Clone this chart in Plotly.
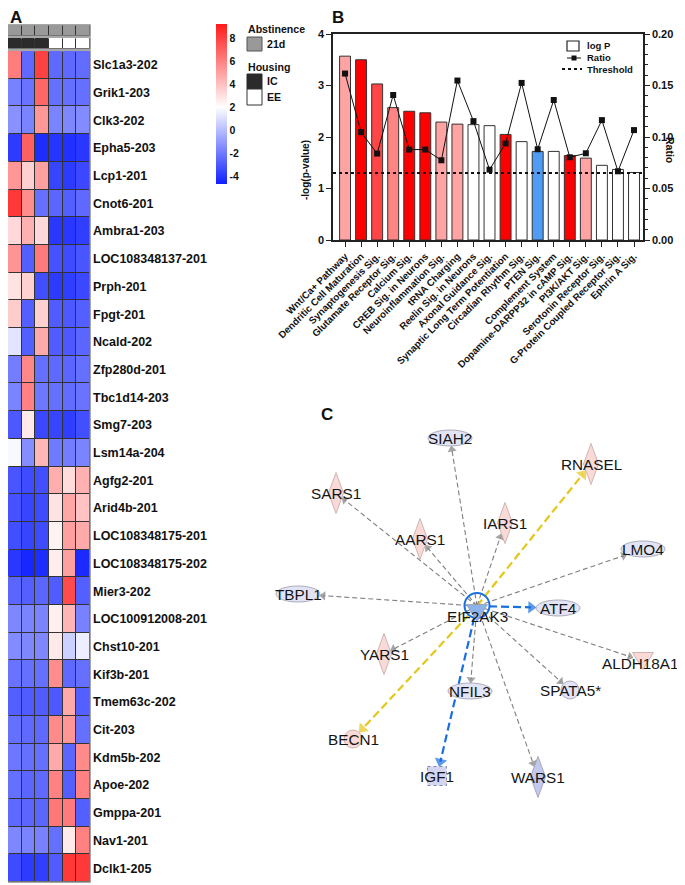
import math
import plotly.graph_objects as go

# The page places the figure 8px in from the top-left corner of the window,
# so the figure is sized to the visible area and positions are given in window pixels.
VIEW_W, VIEW_H = 685, 885
OX, OY = 8, 8
W, H = VIEW_W - OX, VIEW_H - OY
FONT = "Liberation Sans, Arial, sans-serif"


def px(x):
    return (x - OX) / W


def py(y):
    return 1 - (y - OY) / H


# ---------------- Panel A data ----------------
genes = ["Slc1a3-202", "Grik1-203", "Clk3-202", "Epha5-203", "Lcp1-201", "Cnot6-201",
         "Ambra1-203", "LOC108348137-201", "Prph-201", "Fpgt-201", "Ncald-202",
         "Zfp280d-201", "Tbc1d14-203", "Smg7-203", "Lsm14a-204", "Agfg2-201",
         "Arid4b-201", "LOC108348175-201", "LOC108348175-202", "Mier3-202",
         "LOC100912008-201", "Chst10-201", "Kif3b-201", "Tmem63c-202", "Cit-203",
         "Kdm5b-202", "Apoe-202", "Gmppa-201", "Nav1-201", "Dclk1-205"]
samples = ["IC-1", "IC-2", "IC-3", "EE-1", "EE-2", "EE-3"]
abstinence = ["21d", "21d", "21d", "21d", "21d", "21d"]
housing = ["IC", "IC", "IC", "EE", "EE", "EE"]
expr = [
    [6.1, -2.5, 8.0, -2.5, -2.5, -2.4],
    [-1.8, -2.2, 6.8, -2.3, -2.3, -2.3],
    [-1.3, -1.7, 5.3, -1.7, -1.6, -1.5],
    [-3.9, 7.0, -4.3, -4.1, -4.2, -4.0],
    [5.3, 3.5, 5.0, -3.6, -3.9, -3.5],
    [8.3, 5.6, -2.3, -2.6, -2.8, -2.5],
    [3.2, 4.5, 3.2, -4.0, -4.0, -3.8],
    [5.4, -2.8, 6.2, -3.2, -3.4, -3.1],
    [2.9, 3.5, -3.3, -3.9, -3.8, -3.5],
    [3.6, -2.8, 3.5, -2.9, -3.0, -2.8],
    [1.2, -2.8, 4.7, -2.9, -3.0, -2.6],
    [-1.9, 5.8, -2.3, -2.5, -2.6, -2.3],
    [-1.7, 6.0, -2.1, -2.3, -2.4, -2.2],
    [-3.0, 2.7, -3.5, -3.6, -3.8, -3.3],
    [1.8, -1.4, 4.3, -2.0, -1.9, -1.7],
    [-3.1, -3.4, -3.3, 4.6, 3.1, 4.5],
    [-3.2, -3.6, -3.4, 2.9, 4.8, 3.9],
    [-3.3, -3.6, -3.4, 2.4, 5.0, 4.7],
    [-4.0, -4.5, -4.3, 2.6, 5.0, -4.4],
    [-2.6, -2.8, -2.6, -2.9, 7.7, -2.8],
    [-1.6, -1.7, -1.7, 2.5, 4.3, -1.8],
    [-1.5, -1.6, -1.6, 2.7, 0.6, 1.5],
    [-2.2, -2.3, -2.3, 5.6, -2.5, -2.3],
    [-2.8, -2.9, -2.9, -3.0, 4.7, -2.8],
    [-2.3, -2.5, -2.5, 5.7, 5.3, -2.3],
    [-2.1, -2.3, -2.3, 4.7, -2.6, 5.7],
    [-2.3, -2.6, -2.5, 6.0, -2.8, 6.0],
    [-2.5, -2.6, -2.6, 6.3, 6.2, -2.8],
    [-1.6, -1.7, -1.8, -2.3, 2.7, 6.0],
    [-3.4, -3.9, -3.8, -2.9, 8.3, 8.3],
]
cbar_ticks = [-4, -2, 0, 2, 4, 6, 8]
cbar_text = ["-4", "-2", "0", "2", "4", "6", "8"]

# ---------------- Panel B data ----------------
pathways = ["Wnt/Ca+ Pathway", "Dendritic Cell Maturation", "Synaptogenesis Sig.",
            "Glutamate Receptor Sig.", "Calcium Sig.", "CREB Sig. in Neurons",
            "Neuroinflammation Sig.", "tRNA Charging", "Reelin Sig. in Neurons",
            "Axonal Guidance Sig.", "Synaptic Long Term Potentiation",
            "Circadian Rhythm Sig.", "PTEN Sig.", "Complement System",
            "Dopamine-DARPP32 in cAMP Sig.", "PI3K/AKT Sig.", "Serotonin Receptor Sig.",
            "G-Protein Coupled Receptor Sig.", "Ephrin A Sig."]
logp = [3.57, 3.50, 3.03, 2.57, 2.50, 2.47, 2.29, 2.25, 2.24, 2.22, 2.05, 1.91,
        1.72, 1.72, 1.64, 1.59, 1.45, 1.37, 1.31]
ratio = [0.1616, 0.1047, 0.0839, 0.1408, 0.0878, 0.0878, 0.0774, 0.1548, 0.1154,
         0.0683, 0.0937, 0.1525, 0.0881, 0.1359, 0.0803, 0.0842, 0.1164, 0.0667, 0.1067]
bar_colors = ["#ffa3a3", "#ff0000", "#ff4545", "#ff8585", "#ff0000", "#ff0000",
              "#ffa3a3", "#ffa3a3", "#ffffff", "#ffffff", "#ff0000", "#ffffff",
              "#4f9cf5", "#ffffff", "#ff0000", "#ffa3a3", "#ffffff", "#ffffff", "#ffffff"]
threshold = 1.3
legend_names = ["log P", "Ratio", "Threshold"]

# ---------------- Panel C data ----------------
nodes = ["SIAH2", "RNASEL", "SARS1", "AARS1", "IARS1", "LMO4", "TBPL1", "EIF2AK3",
         "ATF4", "YARS1", "ALDH18A1", "NFIL3", "SPATA5*", "BECN1", "IGF1", "WARS1"]
node_x = [450, 591, 336, 420, 505, 643, 298, 477, 558, 384, 643, 470, 570, 353, 437, 538]
node_y = [438, 464, 493, 539, 523, 549, 594, 613, 608, 654, 661, 691, 690, 739, 776, 777]
node_type = ["ellipse", "diamond", "diamond", "diamond", "diamond", "ellipse", "ellipse",
             "triangle", "ellipse", "diamond", "triangle", "ellipse", "circle", "circle",
             "square", "diamond"]
node_fill = ["#e2e4f6", "#f9dad7", "#f9dad7", "#f9dad7", "#f9dad7", "#e2e4f6", "#e2e4f6",
             "#8cb2ea", "#e2e4f6", "#f9dad7", "#f9dad7", "#e2e4f6", "#e2e4f6", "#f9dad7",
             "#d3d6f3", "#c3c8ef"]
edge_source = "EIF2AK3"
edge_targets = ["SIAH2", "RNASEL", "SARS1", "AARS1", "IARS1", "LMO4", "TBPL1", "ATF4",
                "YARS1", "ALDH18A1", "NFIL3", "SPATA5*", "BECN1", "IGF1", "WARS1"]
edge_kind = ["grey", "yellow", "grey", "grey", "grey", "grey", "grey", "blue",
             "grey", "grey", "grey", "grey", "yellow", "blue", "grey"]

# ---------------- styles ----------------
SHAPE_DIMS = {"ellipse": (22, 8), "diamond": (7.5, 20.5), "circle": (9, 9),
              "square": (9.5, 9.5), "triangle": (10.5, 8.5)}
EDGE_STYLE = {"grey": ("#7f7f7f", 1.1, "5px,3px", 8),
              "yellow": ("#e6c619", 2.2, "8px,4px", 11),
              "blue": ("#1a6fdf", 2.2, "8px,4px", 11)}
LABEL_SHIFT = {"EIF2AK3": (0, 3), "ALDH18A1": (-3, 2)}

fig = go.Figure()

# ---- Panel A: heatmap ----
fig.add_trace(go.Heatmap(
    z=expr, x=samples, y=genes, xaxis="x", yaxis="y",
    colorscale=[[0, "#1020ff"], [0.48, "#ffffff"], [1, "#ff1a1a"]],
    zmin=-4.7, zmax=9.25, xgap=1, ygap=1, hoverinfo="skip",
    colorbar=dict(x=px(216), xanchor="left", y=py(104), yanchor="middle",
                  len=160, lenmode="pixels", thickness=11, thicknessmode="pixels",
                  outlinewidth=0, xpad=0, ypad=0, tickvals=cbar_ticks, ticktext=cbar_text,
                  ticks="",
                  tickfont=dict(family=FONT, size=10.5, color="#111", weight="bold")),
))
abst_code = [[1 if a == "21d" else 0 for a in abstinence]]
fig.add_trace(go.Heatmap(
    z=abst_code, x=samples, y=["Abstinence"], xaxis="x2", yaxis="y2",
    colorscale=[[0, "#999999"], [1, "#999999"]], showscale=False, xgap=1, ygap=1,
    hoverinfo="skip"))
house_code = [[1 if h == "IC" else 0 for h in housing]]
fig.add_trace(go.Heatmap(
    z=house_code, x=samples, y=["Housing"], xaxis="x3", yaxis="y3",
    colorscale=[[0, "#ffffff"], [1, "#2b2b2b"]], zmin=0, zmax=1, showscale=False,
    xgap=1, ygap=1, hoverinfo="skip"))

# ---- Panel B ----
xs = list(range(len(pathways)))
fig.add_trace(go.Bar(
    x=xs, y=logp, xaxis="x4", yaxis="y4", width=0.68, name=legend_names[0],
    marker=dict(color=bar_colors, line=dict(color="#333333", width=1)), hoverinfo="skip"))
fig.add_trace(go.Scatter(
    x=[-0.75, len(pathways) - 0.44], y=[threshold, threshold], xaxis="x4", yaxis="y4",
    mode="lines", name=legend_names[2],
    line=dict(color="#111111", width=2, dash="dot"), hoverinfo="skip"))
fig.add_trace(go.Scatter(
    x=xs, y=ratio, xaxis="x4", yaxis="y5", mode="lines+markers", name=legend_names[1],
    line=dict(color="#111111", width=1),
    marker=dict(symbol="square", size=6, color="#111111"), hoverinfo="skip"))

# ---- Panel C ----
pos = {n: (x, y) for n, x, y in zip(nodes, node_x, node_y)}
ntype = dict(zip(nodes, node_type))


def boundary(t, ux, uy):
    a, b = SHAPE_DIMS[t]
    if t in ("ellipse", "triangle"):
        return 1 / math.sqrt((ux / a) ** 2 + (uy / b) ** 2)
    if t == "diamond":
        return 1 / (abs(ux) / a + abs(uy) / b)
    if t == "circle":
        return a
    cands = []
    if abs(ux) > 1e-9:
        cands.append(a / abs(ux))
    if abs(uy) > 1e-9:
        cands.append(b / abs(uy))
    return min(cands)


sx, sy = pos[edge_source]
sy = sy - 7
for tgt, kind in zip(edge_targets, edge_kind):
    tx, ty = pos[tgt]
    dx, dy = sx - tx, sy - ty
    d = math.hypot(dx, dy)
    ux, uy = dx / d, dy / d
    color, width, dash, asize = EDGE_STYLE[kind]
    tb = boundary(ntype[tgt], ux, uy) + asize * 0.45
    ex, ey = tx + ux * tb, ty + uy * tb
    fig.add_trace(go.Scatter(
        x=[sx, ex], y=[sy, ey], xaxis="x6", yaxis="y6", mode="lines+markers",
        showlegend=False, hoverinfo="skip", cliponaxis=False,
        line=dict(color=color, width=width, dash=dash),
        marker=dict(symbol="triangle-up", size=[0, asize], color=color,
                    angleref="previous", line=dict(width=0))))

shapes = []
annotations = []

# heatmap backgrounds / frames
for xr, yr in (("x", "y"), ("x2", "y2"), ("x3", "y3")):
    shapes.append(dict(type="rect", xref=f"{xr} domain", yref=f"{yr} domain",
                       x0=0, x1=1, y0=0, y1=1, fillcolor="#333333",
                       line=dict(color="#8a8a8a", width=1.5), layer="below"))

# network: self loop and nodes
shapes.append(dict(type="circle", xref="x6", yref="y6", x0=sx - 12.5, x1=sx + 12.5,
                   y0=sy - 13, y1=sy + 12, line=dict(color="#1a6fdf", width=2),
                   fillcolor="rgba(0,0,0,0)", layer="above"))
for n, x, y, t, f in zip(nodes, node_x, node_y, node_type, node_fill):
    a, b = SHAPE_DIMS[t]
    base = dict(xref="x6", yref="y6", fillcolor=f, layer="above",
                line=dict(color="#9a9aa8" if f != "#f9dad7" else "#c4a6a2", width=0.8))
    if t in ("ellipse", "circle"):
        shapes.append(dict(type="circle", x0=x - a, x1=x + a, y0=y - b, y1=y + b, **base))
    elif t == "diamond":
        shapes.append(dict(type="path",
                           path=f"M {x},{y - b} L {x + a},{y} L {x},{y + b} L {x - a},{y} Z",
                           **base))
    elif t == "triangle":
        shapes.append(dict(type="path",
                           path=f"M {x - a},{y - b} L {x + a},{y - b} L {x},{y + b} Z",
                           **base))
    else:
        base["line"] = dict(color="#7a7aa0", width=0.9, dash="dot")
        shapes.append(dict(type="rect", x0=x - a, x1=x + a, y0=y - b, y1=y + b, **base))
    sdx, sdy = LABEL_SHIFT.get(n, (0, 0))
    annotations.append(dict(text=n, x=x + sdx, y=y + sdy,
                            xref="x6", yref="y6", showarrow=False,
                            font=dict(family=FONT, size=15.3, color="#151515")))

# heatmap legend
bold = dict(family=FONT, size=10.6, color="#111", weight="bold")
hm_leg = [
    dict(text="Abstinence", x=px(246), y=py(29)),
    dict(text=abstinence[0], x=px(265), y=py(44)),
    dict(text="Housing", x=px(246), y=py(67)),
    dict(text=housing[0], x=px(265), y=py(81)),
    dict(text=housing[-1], x=px(265), y=py(97)),
]
for a_ in hm_leg:
    a_.update(xref="paper", yref="paper", showarrow=False, font=bold,
              xanchor="left", yanchor="middle")
annotations += hm_leg
shapes += [
    dict(type="rect", xref="paper", yref="paper", x0=px(247), x1=px(262), y0=py(51),
         y1=py(37), fillcolor="#999999", line=dict(color="#555555", width=1)),
    dict(type="rect", xref="paper", yref="paper", x0=px(247), x1=px(262), y0=py(89),
         y1=py(74), fillcolor="#2b2b2b", line=dict(color="#2b2b2b", width=1)),
    dict(type="rect", xref="paper", yref="paper", x0=px(247), x1=px(262), y0=py(105),
         y1=py(89), fillcolor="#ffffff", line=dict(color="#333333", width=1)),
]

# bar chart legend (drawn compactly as in the reference)
lfont = dict(family=FONT, size=9.5, color="#111", weight="bold")
shapes += [
    dict(type="rect", xref="paper", yref="paper", x0=px(567), x1=px(579), y0=py(51),
         y1=py(41), fillcolor="#ffffff", line=dict(color="#222222", width=1.2)),
    dict(type="line", xref="paper", yref="paper", x0=px(567), x1=px(581), y0=py(58),
         y1=py(58), line=dict(color="#111111", width=1)),
    dict(type="rect", xref="paper", yref="paper", x0=px(571.5), x1=px(576.5), y0=py(60.5),
         y1=py(55.5), fillcolor="#111111", line=dict(color="#111111", width=0)),
    dict(type="line", xref="paper", yref="paper", x0=px(562), x1=px(582), y0=py(69),
         y1=py(69), line=dict(color="#111111", width=2, dash="dot")),
]
for name, yy in zip(legend_names, (46, 58, 69)):
    annotations.append(dict(text=name, x=px(585), y=py(yy), xanchor="left",
                            yanchor="middle", xref="paper", yref="paper",
                            showarrow=False, font=lfont))

# panel letters and axis titles
annotations += [
    dict(text="A", x=px(8), y=py(17), xanchor="left", yanchor="middle", xref="paper",
         yref="paper", showarrow=False, font=dict(family=FONT, size=17, color="#111", weight="bold")),
    dict(text="B", x=px(330), y=py(17), xanchor="left", yanchor="middle", xref="paper",
         yref="paper", showarrow=False, font=dict(family=FONT, size=17, color="#111", weight="bold")),
    dict(text="C", x=px(327), y=py(414), xanchor="center", yanchor="middle", xref="paper",
         yref="paper", showarrow=False, font=dict(family=FONT, size=17, color="#111", weight="bold")),
    dict(text="-log(p-value)", x=px(305), y=py(138), textangle=-90, xref="paper", yref="paper",
         showarrow=False, font=dict(family=FONT, size=10, color="#111", weight="bold")),
    dict(text="Ratio", x=px(678), y=py(135), textangle=90, xref="paper", yref="paper",
         showarrow=False, font=dict(family=FONT, size=10.5, color="#111", weight="bold")),
]

tickb = dict(family=FONT, size=11, color="#111", weight="bold")
noax = dict(showticklabels=False, ticks="", showgrid=False, zeroline=False,
            automargin=False, fixedrange=True)
fig.update_layout(
    width=W, height=H, margin=dict(l=0, r=0, t=0, b=0, pad=0, autoexpand=False),
    paper_bgcolor="white", plot_bgcolor="rgba(0,0,0,0)",
    barmode="overlay", shapes=shapes, annotations=annotations,
    showlegend=False,
    # heatmap
    xaxis=dict(domain=[px(8), px(90)], anchor="y", **noax),
    yaxis=dict(domain=[py(882), py(51)], anchor="x", autorange="reversed", side="right",
               ticks="", showgrid=False, zeroline=False, ticklabelstandoff=2,
               automargin=False, fixedrange=True,
               tickfont=dict(family=FONT, size=12.5, color="#111", weight="bold")),
    xaxis2=dict(domain=[px(8), px(90)], anchor="y2", **noax),
    yaxis2=dict(domain=[py(36), py(25)], anchor="x2", **noax),
    xaxis3=dict(domain=[px(8), px(90)], anchor="y3", **noax),
    yaxis3=dict(domain=[py(49), py(38)], anchor="x3", **noax),
    # bar chart
    xaxis4=dict(domain=[px(333), px(643)], anchor="y4", range=[-0.75, len(pathways) - 0.44],
                tickvals=xs, ticktext=pathways, tickangle=-45, ticks="outside", ticklen=5,
                tickwidth=1, tickcolor="#222", showline=True, linecolor="#222", linewidth=1.5,
                mirror=True, showgrid=False, zeroline=False, automargin=False,
                tickfont=dict(family=FONT, size=9.8, color="#111", weight="bold")),
    yaxis4=dict(domain=[py(240), py(34)], anchor="x4", range=[0, 4], dtick=1,
                ticks="outside", ticklen=5, tickwidth=1.2, tickcolor="#222", showline=True,
                linecolor="#222", linewidth=1.5, showgrid=False, zeroline=False,
                automargin=False, tickfont=tickb),
    yaxis5=dict(domain=[py(240), py(34)], anchor="x4", overlaying="y4", side="right",
                range=[0, 0.2], tickvals=[0, 0.05, 0.10, 0.15, 0.20], tickformat=".2f",
                ticks="outside", ticklen=5, tickwidth=1.2, tickcolor="#222", showline=True,
                linecolor="#222", linewidth=1.5, showgrid=False, zeroline=False,
                automargin=False,
                minor=dict(dtick=0.01, ticks="outside", ticklen=3, tickcolor="#222"),
                tickfont=tickb),
    # network (axis units equal window pixels)
    xaxis6=dict(domain=[0, 1], anchor="y6", range=[OX, VIEW_W], visible=False,
                fixedrange=True, automargin=False),
    yaxis6=dict(domain=[0, py(380)], anchor="x6", range=[VIEW_H, 380], visible=False,
                fixedrange=True, automargin=False),
)

fig.write_html("out.html")
